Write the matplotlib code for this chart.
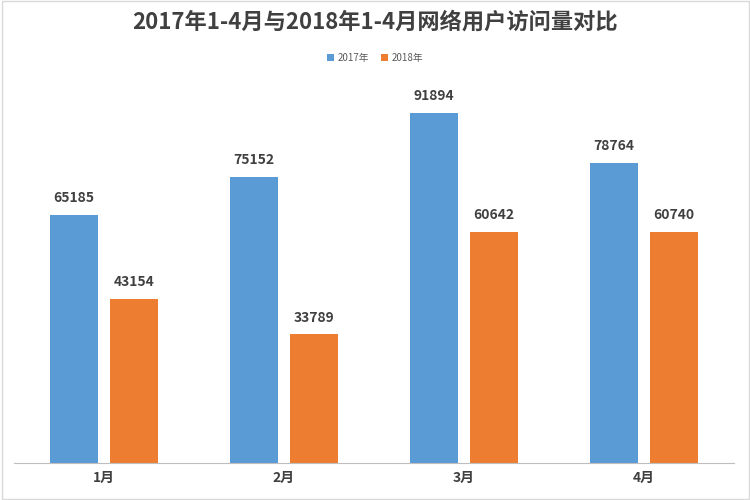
import matplotlib
matplotlib.use("Agg")
import matplotlib.pyplot as plt
import numpy as np

plt.rcParams['font.family'] = ['Noto Sans CJK SC', 'DejaVu Sans']

categories = ["1月", "2月", "3月", "4月"]
series_names = ["2017年", "2018年"]
values_2017 = [65185, 75152, 91894, 78764]
values_2018 = [43154, 33789, 60642, 60740]
title = "2017年1-4月与2018年1-4月网络用户访问量对比"

blue = "#5B9BD5"
orange = "#ED7D31"
text_c = "#404040"

fig = plt.figure(figsize=(7.5, 5), dpi=100)
ax = fig.add_axes([0.0187, 0.074, 0.96, 0.762])
x = np.arange(len(categories))
w = 0.267
off = 0.167
b1 = ax.bar(x - off, values_2017, w, color=blue, label=series_names[0])
b2 = ax.bar(x + off, values_2018, w, color=orange, label=series_names[1])
for bars in (b1, b2):
    for r in bars:
        ax.text(r.get_x() + r.get_width() / 2, r.get_height() + 2500, f"{int(r.get_height())}",
                ha="center", va="bottom", fontsize=10, fontweight="bold", color=text_c)

ax.set_xlim(-0.5, 3.5)
ax.set_ylim(0, 100000)
ax.set_xticks(x)
ax.set_xticklabels(categories, fontsize=10, fontweight="bold", color=text_c)
ax.tick_params(axis="x", length=0, pad=6)
ax.set_yticks([])
for s in ["top", "right", "left"]:
    ax.spines[s].set_visible(False)
ax.spines["bottom"].set_color("#BFBFBF")

fig.text(0.5, 0.955, title, ha="center", va="center", fontsize=16, fontweight="bold", color=text_c)
fig.legend(handles=[b1, b2], loc="center", bbox_to_anchor=(0.5, 0.884), ncol=2, frameon=False,
           fontsize=7, handlelength=0.7, handleheight=0.7, columnspacing=1.2, handletextpad=0.4,
           labelcolor="#595959")

border = plt.Rectangle((0.002, 0.002), 0.996, 0.996, transform=fig.transFigure, fill=False,
                       edgecolor="#D9D9D9", linewidth=1)
fig.patches.append(border)

fig.savefig("out.png", dpi=100)
